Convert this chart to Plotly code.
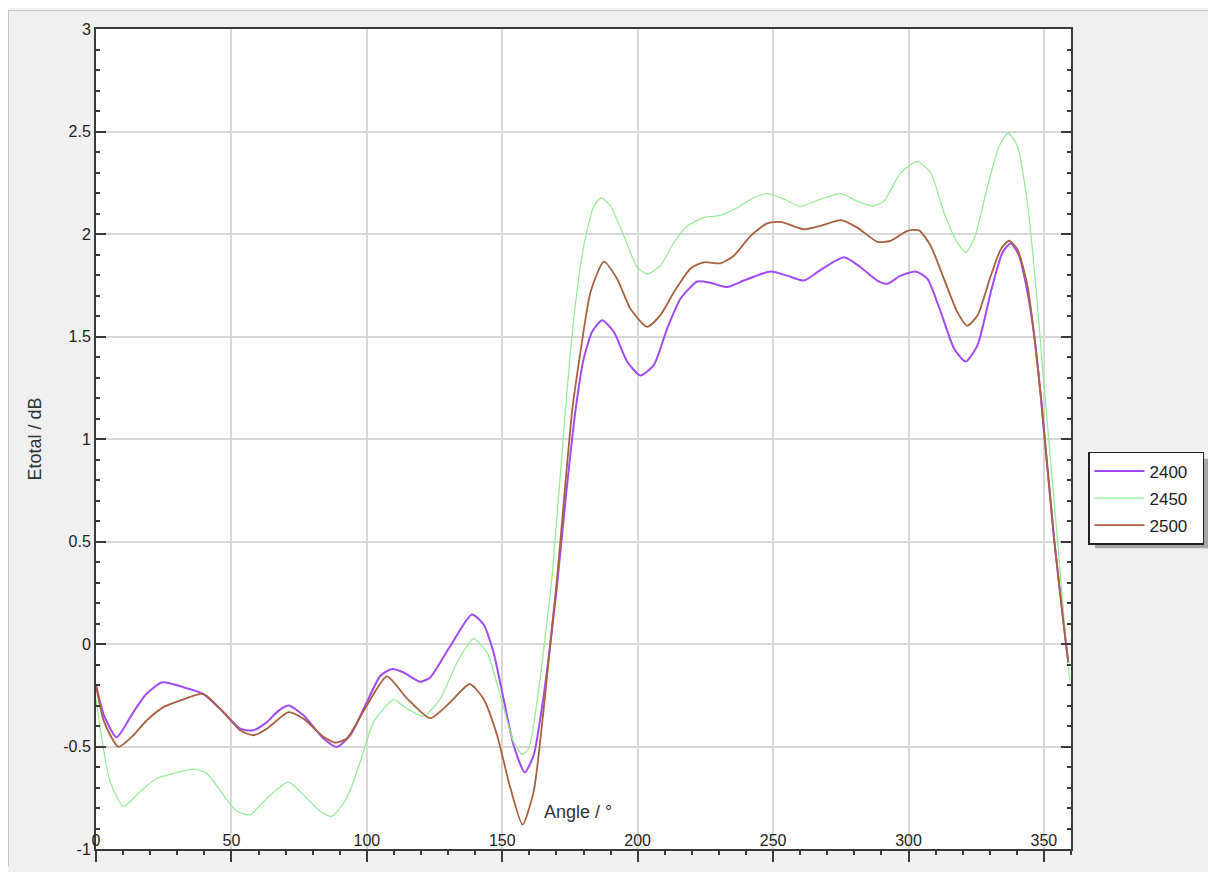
import plotly.graph_objects as go

# ---- data ----
angle_2400 = [0, 3, 7.6, 13.8, 18.5, 24.5, 32.3, 39.7, 47, 53.2, 58.1, 63.1, 67, 71.1, 76.6, 84, 88.9, 93.9,
              100, 105, 109.3, 113.6, 119.7, 123.4, 130.8, 138.8, 143.1, 146.8, 150.5, 154.2, 158.3, 161.6,
              165.3, 167.8, 170.2, 173.5, 177, 180.1, 183.2, 186.9, 191.2, 196.1, 201, 206, 210.9, 215.8,
              222, 226.9, 233.1, 239.2, 249.1, 255.2, 261.4, 267.6, 276.2, 282.3, 288.5, 292.2, 297.1,
              302.7, 307, 311.9, 316.8, 321.1, 325.5, 330.4, 334.7, 337.8, 340.8, 343.9, 346.4, 348.8,
              353.8, 358.1, 359]
etotal_2400 = [-0.20, -0.35, -0.455, -0.332, -0.245, -0.187, -0.211, -0.244, -0.332, -0.413, -0.421, -0.381,
               -0.33, -0.300, -0.348, -0.461, -0.502, -0.445, -0.284, -0.155, -0.122, -0.139, -0.184, -0.163,
               -0.01, 0.144, 0.095, -0.042, -0.268, -0.494, -0.626, -0.542, -0.252, 0.006, 0.281, 0.72,
               1.136, 1.394, 1.523, 1.579, 1.523, 1.378, 1.310, 1.362, 1.539, 1.684, 1.768, 1.762, 1.741,
               1.773, 1.817, 1.797, 1.773, 1.825, 1.886, 1.838, 1.773, 1.757, 1.797, 1.817, 1.781, 1.620,
               1.442, 1.378, 1.458, 1.717, 1.910, 1.955, 1.894, 1.717, 1.507, 1.216, 0.507, 0.006, -0.09]

angle_2450 = [0, 5.2, 10.1, 16.3, 22.4, 28.6, 36, 40.9, 47, 52, 56.9, 63.1, 71.1, 76.6, 82.8, 87.1, 92.6,
              97.6, 102.5, 109.9, 114.8, 121, 127.1, 133.3, 139.4, 144.4, 149.3, 154.2, 157.3, 159.8,
              162.8, 165.9, 168.4, 173.3, 176.4, 180.1, 183.8, 186.5, 190, 194.9, 199.8, 203.5, 208.4,
              213.4, 218.3, 224.4, 230.6, 236.7, 242.9, 247.8, 252.8, 260.2, 267.6, 275, 281.1, 286.7,
              290.9, 297.1, 303.3, 308.2, 313.1, 318, 321.1, 324.2, 329.2, 333.4, 336.8, 340.2, 343.9,
              347, 349.5, 355, 358.8, 359.6]
etotal_2450 = [-0.27, -0.671, -0.792, -0.72, -0.655, -0.631, -0.61, -0.631, -0.736, -0.816, -0.833, -0.752,
               -0.674, -0.736, -0.816, -0.841, -0.752, -0.574, -0.381, -0.271, -0.316, -0.352, -0.268,
               -0.09, 0.026, -0.042, -0.252, -0.478, -0.539, -0.510, -0.284, 0.039, 0.329, 1.136, 1.588,
               1.942, 2.136, 2.177, 2.136, 1.991, 1.838, 1.805, 1.846, 1.959, 2.039, 2.08, 2.091, 2.128,
               2.177, 2.197, 2.177, 2.136, 2.17, 2.197, 2.160, 2.136, 2.160, 2.298, 2.354, 2.298, 2.104,
               1.959, 1.910, 1.975, 2.233, 2.427, 2.494, 2.427, 2.152, 1.749, 1.346, 0.508, -0.09, -0.18]

angle_2500 = [0, 3, 8.3, 13.8, 18.7, 24.9, 31, 39.7, 47, 53.2, 58.1, 63.1, 71.1, 76.6, 84, 88.3, 92.6, 100,
              107.4, 114.8, 123.4, 130.8, 138, 143.1, 148.1, 153, 157.5, 161.6, 165.3, 168.4, 170.3,
              175.8, 178.9, 182.6, 187.5, 192.4, 197.3, 203.5, 208.4, 213.4, 219.6, 224.4, 230.6, 235.5,
              241.7, 247.8, 252.8, 261.4, 267.6, 275, 281.1, 288.5, 293.4, 299.6, 303.9, 308.2, 313.1,
              318, 321.7, 325.5, 330.4, 334.1, 337.1, 340.2, 343.9, 346.4, 348.8, 353.8, 358.1, 359]
etotal_2500 = [-0.20, -0.38, -0.502, -0.445, -0.373, -0.308, -0.276, -0.244, -0.332, -0.421, -0.445, -0.413,
               -0.332, -0.365, -0.453, -0.481, -0.461, -0.300, -0.158, -0.265, -0.362, -0.284, -0.195,
               -0.268, -0.445, -0.703, -0.881, -0.72, -0.316, 0.087, 0.329, 1.136, 1.426, 1.717, 1.865,
               1.781, 1.636, 1.547, 1.604, 1.717, 1.833, 1.862, 1.857, 1.894, 1.991, 2.052, 2.059, 2.023,
               2.04, 2.068, 2.031, 1.962, 1.967, 2.015, 2.018, 1.942, 1.781, 1.620, 1.552, 1.604, 1.797,
               1.926, 1.967, 1.926, 1.749, 1.507, 1.216, 0.507, 0.006, -0.09]

series_names = ["2400", "2450", "2500"]
series_colors = ["#a24bf5", "#98ec98", "#a8613f"]
series_widths = [2, 1.3, 1.8]

y_tickvals = [-1, -0.5, 0, 0.5, 1, 1.5, 2, 2.5, 3]
y_ticktext = ["-1", "-0.5", "0", "0.5", "1", "1.5", "2", "2.5", "3"]
x_tickvals = [0, 50, 100, 150, 200, 250, 300, 350]
x_ticktext = ["0", "50", "100", "150", "200", "250", "300", "350"]

# ---- figure geometry (page pixels; the page body adds an 8px offset) ----
OFF = 8
W, H = 1208, 864
PL, PT, PR, PB = 96, 29, 1071, 855          # plot area edges in page pixels
L, T = PL - OFF, PT - OFF
R, B = W - (PR - OFF), H - (PB - OFF)
pw, ph = W - L - R, H - T - B


def px_x(p):
    return (p - PL) / pw


def px_y(p):
    return (PB - p) / ph


fig = go.Figure()
for ang, val, name, col, w in zip([angle_2400, angle_2450, angle_2500],
                                  [etotal_2400, etotal_2450, etotal_2500],
                                  series_names, series_colors, series_widths):
    fig.add_trace(go.Scatter(x=ang, y=val, name=name + "\u00a0\u00a0", mode="lines",
                             line=dict(color=col, width=w, shape="spline", smoothing=0.6),
                             legendgroup=name))

axis_color = "#3a3a3a"
FONT = "Liberation Sans, Arial, sans-serif"
tick_font = dict(family=FONT, size=16, color="#222222")

fig.update_layout(
    width=W, height=H,
    margin=dict(l=L, r=R, t=T, b=B),
    paper_bgcolor="#f0f0f0",
    plot_bgcolor="#ffffff",
    font=dict(family=FONT, size=16, color="#222222"),
    showlegend=True,
    legend=dict(x=px_x(1088), y=px_y(455), xanchor="left", yanchor="top",
                bgcolor="#ffffff", bordercolor="#222222", borderwidth=1.5,
                font=dict(size=17, color="#222222"),
                traceorder="grouped", tracegroupgap=2, itemwidth=50),
    xaxis=dict(range=[0, 360], tickmode="array", tickvals=x_tickvals, ticktext=x_ticktext,
               ticks="outside", ticklen=11, tickwidth=1.5, tickcolor=axis_color,
               ticklabelposition="inside", ticklabeloverflow="allow", ticklabelstandoff=0,
               tickfont=tick_font,
               showline=True, linecolor=axis_color, linewidth=2, mirror=True,
               showgrid=True, gridcolor="#d8d8d8", gridwidth=1.5, zeroline=False,
               minor=dict(dtick=10, ticks="outside", ticklen=4, tickcolor=axis_color, showgrid=False)),
    xaxis2=dict(range=[0, 360], overlaying="x", side="top", anchor="y",
                tickmode="array", tickvals=x_tickvals, showticklabels=False,
                ticks="inside", ticklen=11, tickwidth=1.5, tickcolor=axis_color,
                showline=False, showgrid=False, zeroline=False,
                minor=dict(dtick=10, ticks="inside", ticklen=4, tickcolor=axis_color, showgrid=False)),
    yaxis=dict(range=[-1, 3], tickmode="array", tickvals=y_tickvals, ticktext=y_ticktext,
               ticks="inside", ticklen=10, tickwidth=1.5, tickcolor=axis_color,
               tickfont=tick_font,
               showline=True, linecolor=axis_color, linewidth=2, mirror="ticks",
               showgrid=True, gridcolor="#d8d8d8", gridwidth=1.5, zeroline=False,
               title=dict(text="Etotal / dB", font=dict(size=18, color="#333333"), standoff=17),
               minor=dict(dtick=0.1, ticks="inside", ticklen=4, tickcolor=axis_color, showgrid=False)),
)

# X axis title sits inside the plot, like the reference
fig.add_annotation(text="Angle / °", x=178, xref="x", y=px_y(818), yref="paper",
                   showarrow=False, font=dict(size=18, color="#333333"),
                   xanchor="center", yanchor="middle")

shapes = [
    # thin window border along the top and left edges
    dict(type="line", xref="paper", yref="paper", x0=px_x(OFF), x1=px_x(OFF + W), y0=px_y(10.5), y1=px_y(10.5),
         line=dict(color="#c4c4c4", width=1)),
    dict(type="line", xref="paper", yref="paper", x0=px_x(OFF + 0.5), x1=px_x(OFF + 0.5), y0=px_y(10),
         y1=px_y(OFF + H), line=dict(color="#c4c4c4", width=1)),
    # legend drop shadow
    dict(type="rect", xref="paper", yref="paper", x0=px_x(1095), x1=px_x(1208), y0=px_y(552), y1=px_y(462),
         fillcolor="#a6a6a6", line=dict(width=0)),
]
fig.update_layout(shapes=shapes)

fig.write_html("out.html",
               post_script="document.documentElement.style.overflow='hidden';"
                           "document.body.style.overflow='hidden';")
